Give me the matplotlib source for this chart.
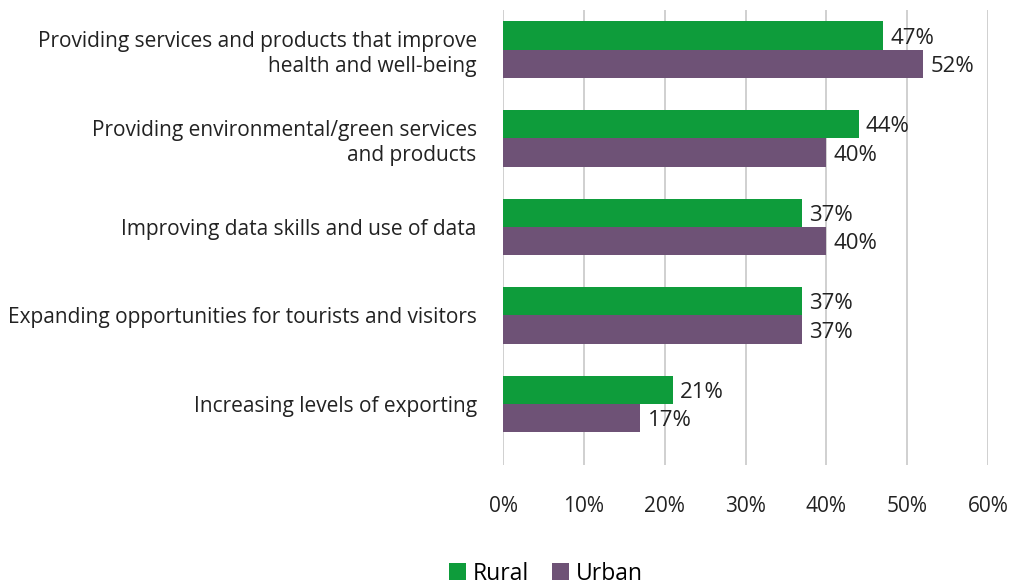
import matplotlib.pyplot as plt
import numpy as np

plt.rcParams['font.family'] = ['Open Sans', 'DejaVu Sans']

categories = ['Providing services and products that improve\nhealth and well-being',
              'Providing environmental/green services\nand products',
              'Improving data skills and use of data',
              'Expanding opportunities for tourists and visitors',
              'Increasing levels of exporting']
rural = [47, 44, 37, 37, 21]
urban = [52, 40, 40, 37, 17]

green = '#0e9c3b'
purple = '#6e5276'
ink = '#222222'

fig = plt.figure(figsize=(10.15, 5.86), dpi=100)
ax = fig.add_axes([0.4956, 0.2065, 0.4778, 0.7765])

y = np.arange(len(categories))
h = 0.32
b1 = ax.barh(y - h / 2, rural, height=h, color=green, label='Rural', zorder=3)
b2 = ax.barh(y + h / 2, urban, height=h, color=purple, label='Urban', zorder=3)

for bars, vals in ((b1, rural), (b2, urban)):
    for bar, v in zip(bars, vals):
        ax.text(v + 0.9, bar.get_y() + bar.get_height() / 2 + 0.03, f'{v}%',
                va='center', ha='left', fontsize=16, color=ink)

ax.set_xlim(0, 60)
ax.set_ylim(4.69, -0.45)
ax.set_xticks(range(0, 61, 10))
ax.set_xticklabels([f'{t}%' for t in range(0, 61, 10)], fontsize=15, color=ink)
ax.set_yticks(y)
ax.set_yticklabels(categories, fontsize=15, color=ink, linespacing=1.25)
ax.tick_params(length=0, axis='x', pad=22)
ax.tick_params(length=0, axis='y', pad=19)
ax.grid(axis='x', color='#c8c8c8', linewidth=1.2, zorder=0)
for s in ax.spines.values():
    s.set_visible(False)

fig.legend(handles=[b1, b2], loc='lower center', bbox_to_anchor=(0.538, -0.035), ncol=2,
           frameon=False, fontsize=16.5, handlelength=0.75, handleheight=0.75,
           handletextpad=0.3, columnspacing=1.0)

plt.savefig('out.png')
